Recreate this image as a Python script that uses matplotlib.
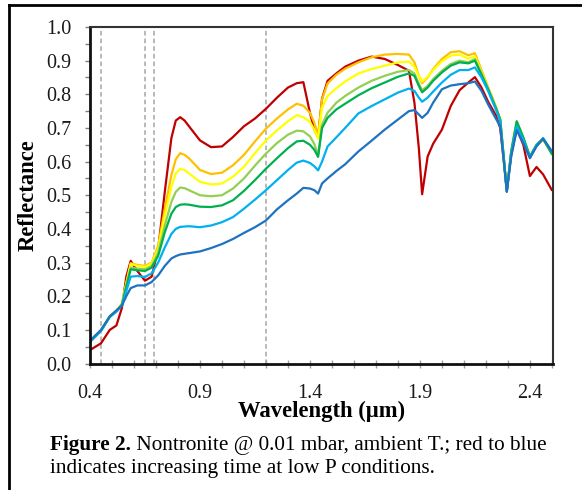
import matplotlib
matplotlib.use("Agg")
import matplotlib.pyplot as plt
from matplotlib.ticker import FixedLocator, MultipleLocator
from matplotlib.lines import Line2D

plt.rcParams['font.family'] = ['Liberation Serif', 'DejaVu Serif']

# ---------------- data ----------------
wavelength = [0.40, 0.45, 0.49, 0.52, 0.545, 0.565, 0.585, 0.615, 0.65, 0.68,
              0.71, 0.74, 0.77, 0.79, 0.81, 0.83, 0.85, 0.90, 0.95, 1.00, 1.05, 1.10,
              1.15, 1.20, 1.25, 1.30, 1.34, 1.37, 1.40, 1.42, 1.437, 1.455,
              1.48, 1.52, 1.56, 1.62, 1.68, 1.74, 1.80, 1.85, 1.875, 1.895,
              1.91, 1.935, 1.96, 2.00, 2.04, 2.08, 2.12, 2.15, 2.18, 2.21,
              2.245, 2.265, 2.28, 2.295, 2.315, 2.34, 2.37, 2.40, 2.43, 2.46, 2.50]

red = [0.040, 0.060, 0.100, 0.113, 0.165, 0.258, 0.305, 0.275, 0.246, 0.258,
       0.34, 0.51, 0.67, 0.722, 0.732, 0.722, 0.705, 0.663, 0.643, 0.645, 0.673, 0.705,
       0.728, 0.757, 0.790, 0.820, 0.833, 0.836, 0.745, 0.695, 0.672, 0.787,
       0.840, 0.862, 0.882, 0.900, 0.912, 0.905, 0.887, 0.870, 0.775, 0.640,
       0.503, 0.615, 0.653, 0.695, 0.765, 0.812, 0.835, 0.851, 0.820, 0.778,
       0.738, 0.700, 0.610, 0.515, 0.620, 0.698, 0.650, 0.557, 0.584, 0.562, 0.515]

orange = [0.066, 0.098, 0.140, 0.156, 0.178, 0.238, 0.298, 0.293, 0.290, 0.300,
          0.35, 0.46, 0.56, 0.607, 0.625, 0.620, 0.610, 0.575, 0.563, 0.567, 0.589, 0.620,
          0.660, 0.698, 0.728, 0.755, 0.772, 0.766, 0.745, 0.715, 0.678, 0.785,
          0.832, 0.858, 0.876, 0.895, 0.910, 0.918, 0.920, 0.918, 0.895, 0.855,
          0.833, 0.850, 0.875, 0.905, 0.925, 0.928, 0.916, 0.922, 0.872, 0.822,
          0.765, 0.725, 0.620, 0.512, 0.630, 0.718, 0.670, 0.615, 0.648, 0.665, 0.625]

yellow = [0.066, 0.098, 0.140, 0.156, 0.178, 0.238, 0.296, 0.290, 0.287, 0.297,
          0.34, 0.44, 0.525, 0.565, 0.578, 0.575, 0.565, 0.540, 0.532, 0.535, 0.555, 0.585,
          0.625, 0.663, 0.693, 0.720, 0.738, 0.732, 0.718, 0.695, 0.668, 0.760,
          0.795, 0.818, 0.838, 0.862, 0.875, 0.885, 0.895, 0.897, 0.882, 0.855,
          0.838, 0.852, 0.872, 0.898, 0.915, 0.918, 0.906, 0.913, 0.866, 0.818,
          0.762, 0.725, 0.620, 0.512, 0.630, 0.718, 0.670, 0.615, 0.648, 0.665, 0.625]

light_green = [0.065, 0.097, 0.140, 0.156, 0.176, 0.232, 0.285, 0.282, 0.280, 0.290,
               0.33, 0.41, 0.48, 0.510, 0.523, 0.521, 0.515, 0.500, 0.497, 0.500, 0.520, 0.550,
               0.588, 0.624, 0.655, 0.680, 0.692, 0.690, 0.675, 0.652, 0.619, 0.710,
               0.745, 0.775, 0.795, 0.820, 0.840, 0.855, 0.867, 0.872, 0.862, 0.832,
               0.812, 0.825, 0.845, 0.870, 0.890, 0.900, 0.895, 0.905, 0.862, 0.816,
               0.760, 0.725, 0.620, 0.512, 0.630, 0.718, 0.670, 0.615, 0.648, 0.667, 0.625]

green = [0.064, 0.097, 0.140, 0.155, 0.175, 0.228, 0.280, 0.277, 0.275, 0.285,
         0.32, 0.39, 0.445, 0.465, 0.472, 0.473, 0.472, 0.466, 0.465, 0.470, 0.485, 0.513,
         0.545, 0.579, 0.610, 0.640, 0.660, 0.662, 0.650, 0.635, 0.614, 0.700,
         0.730, 0.755, 0.772, 0.797, 0.818, 0.835, 0.852, 0.862, 0.855, 0.825,
         0.806, 0.820, 0.840, 0.865, 0.885, 0.895, 0.892, 0.900, 0.858, 0.815,
         0.760, 0.725, 0.620, 0.512, 0.630, 0.720, 0.672, 0.615, 0.650, 0.668, 0.622]

light_blue = [0.065, 0.097, 0.138, 0.154, 0.172, 0.215, 0.258, 0.260, 0.257, 0.268,
              0.30, 0.345, 0.385, 0.400, 0.406, 0.407, 0.408, 0.405, 0.410, 0.420, 0.435, 0.460,
              0.487, 0.515, 0.545, 0.575, 0.597, 0.603, 0.596, 0.586, 0.574, 0.600,
              0.645, 0.672, 0.700, 0.743, 0.765, 0.785, 0.805, 0.817, 0.810, 0.790,
              0.778, 0.790, 0.808, 0.835, 0.858, 0.872, 0.872, 0.880, 0.850, 0.810,
              0.755, 0.722, 0.618, 0.512, 0.625, 0.705, 0.665, 0.612, 0.648, 0.670, 0.630]

blue = [0.068, 0.100, 0.140, 0.158, 0.172, 0.200, 0.224, 0.232, 0.232, 0.242,
        0.262, 0.290, 0.312, 0.319, 0.324, 0.326, 0.328, 0.333, 0.343, 0.355, 0.370, 0.388,
        0.405, 0.425, 0.458, 0.485, 0.505, 0.522, 0.520, 0.515, 0.505, 0.535,
        0.550, 0.572, 0.592, 0.630, 0.662, 0.695, 0.725, 0.750, 0.753, 0.740,
        0.730, 0.745, 0.775, 0.815, 0.826, 0.830, 0.833, 0.838, 0.810, 0.770,
        0.728, 0.705, 0.610, 0.510, 0.615, 0.693, 0.655, 0.610, 0.645, 0.668, 0.630]

series = [red, orange, yellow, light_green, green, light_blue, blue]
colors = ['#C00000', '#FFC000', '#FFFF00', '#92D050', '#00B050', '#00B0F0', '#1F72C0']

dashed_lines = [0.45, 0.65, 0.69, 1.20]
x_major = [0.4, 0.9, 1.4, 1.9, 2.4]

# ---------------- figure ----------------
W, H = 582, 490
fig = plt.figure(figsize=(W / 100, H / 100), dpi=100)
ax = fig.add_axes([90 / W, 1 - 363.5 / H, (553 - 90) / W, (363.5 - 27) / H])

for xv in dashed_lines:
    ax.axvline(xv, color='#A6A6A6', lw=1.1, ls=(0, (3, 2)), zorder=1)

for vals, c in zip(series, colors):
    ax.plot(wavelength, vals, color=c, lw=1.6, zorder=2,
            solid_joinstyle='round', solid_capstyle='round')

ax.set_xlim(0.4, 2.505)
ax.set_ylim(0.0, 1.0)

ax.xaxis.set_major_locator(FixedLocator(x_major))
ax.xaxis.set_minor_locator(FixedLocator([0.4 + 0.1 * i for i in range(22)]))
ax.yaxis.set_major_locator(MultipleLocator(0.1))
ax.yaxis.set_minor_locator(MultipleLocator(0.05))
ax.set_yticklabels([f"{v:.1f}" for v in ax.get_yticks()])
ax.set_xticklabels([f"{v:.1f}" for v in x_major])

ax.tick_params(axis='x', which='both', direction='inout', length=6, width=1.0,
               color='#A0A0A0', labelsize=14.5, pad=11.5, labelcolor='#1a1a1a')
ax.tick_params(axis='y', which='both', direction='out', length=3.6, width=1.0,
               color='#7F7F7F', labelsize=14.5, pad=9.5, labelcolor='#1a1a1a')

for side in ['left', 'bottom']:
    ax.spines[side].set_linewidth(2.0)
    ax.spines[side].set_color('#111111')
for side in ['top', 'right']:
    ax.spines[side].set_linewidth(1.5)
    ax.spines[side].set_color('#333333')

ax.set_xlabel('Wavelength (µm)', fontsize=16.3, fontweight='bold')
ax.xaxis.set_label_coords(0.5, -(417 - 363.5) / (363.5 - 27))
ax.xaxis.label.set_va('baseline')
ax.set_ylabel('Reflectance', fontsize=16.3, fontweight='bold')
ax.yaxis.set_label_coords((28 - 90) / (553 - 90), 0.5)
ax.yaxis.label.set_va('center')

# outer frame (top and left edges)
fig.add_artist(Line2D([9 / W, 1.0], [1 - 5 / H, 1 - 5 / H], color='black', lw=2.0,
                      transform=fig.transFigure))
fig.add_artist(Line2D([9 / W, 9 / W], [0.0, 1 - 5 / H], color='black', lw=2.0,
                      transform=fig.transFigure))

# caption
cap_size = 15.3
t1 = fig.text(50 / W, 1 - 450 / H, 'Figure 2.', fontsize=cap_size, fontweight='bold',
              ha='left', va='baseline')
fig.canvas.draw()
r = fig.canvas.get_renderer()
bb = t1.get_window_extent(r)
fig.text(bb.x1 / W, 1 - 450 / H, ' Nontronite @ 0.01 mbar, ambient T.; red to blue',
         fontsize=cap_size, ha='left', va='baseline')
fig.text(50 / W, 1 - 473 / H, 'indicates increasing time at low P conditions.',
         fontsize=cap_size, ha='left', va='baseline')

fig.savefig('out.png', dpi=100)
